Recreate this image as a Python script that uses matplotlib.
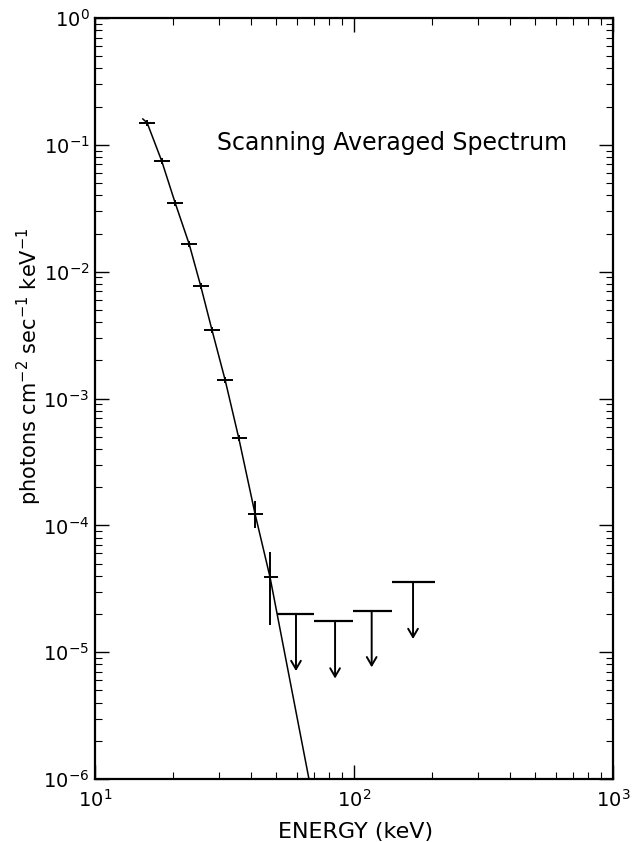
import numpy as np
import matplotlib.pyplot as plt

# measured points (keV, photons cm-2 s-1 keV-1)
energy = [15.9, 18.1, 20.4, 23.1, 25.6, 28.3, 31.8, 35.9, 41.5, 47.4]
e_lo = [14.8, 16.9, 19.0, 21.5, 23.9, 26.3, 29.6, 33.8, 38.9, 44.8]
e_hi = [17.05, 19.5, 21.9, 24.8, 27.5, 30.4, 34.1, 38.6, 44.5, 50.9]
flux = [0.149, 0.0745, 0.0348, 0.0165, 0.0077, 0.00346, 0.0014, 4.87e-4, 1.23e-4, 3.9e-5]
f_lo = [0.141, 0.0705, 0.0330, 0.0156, 0.0073, 0.00328, 0.00133, 4.61e-4, 0.95e-4, 1.63e-5]
f_hi = [0.157, 0.0787, 0.0367, 0.0174, 0.0081, 0.00365, 0.00148, 5.14e-4, 1.55e-4, 6.15e-5]

# upper limits
ul_lo = [50.5, 70.1, 99.1, 140]
ul_hi = [70.1, 99.1, 140, 205]
ul_c = [59.7, 84.5, 117, 169]
ul_f = [2.0e-5, 1.76e-5, 2.11e-5, 3.56e-5]
ul_tip = [7.1e-6, 6.2e-6, 7.6e-6, 1.27e-5]

# fitted curve
curve_e = [15.3] + energy + [67.0]
curve_f = [0.16] + flux + [1e-6]

fig = plt.figure(figsize=(6.35, 8.42), dpi=100)
ax = fig.add_axes([0.1496, 0.0748, 0.8158, 0.9038])

ax.plot(curve_e, curve_f, color='k', lw=1.1)

x = np.array(energy)
y = np.array(flux)
xerr = [x - np.array(e_lo), np.array(e_hi) - x]
yerr = [y - np.array(f_lo), np.array(f_hi) - y]
ax.errorbar(x, y, xerr=xerr, yerr=yerr, fmt='none', ecolor='k', elinewidth=1.4, capsize=0)

ax.hlines(ul_f, ul_lo, ul_hi, color='k', lw=1.6)
for c, f, t in zip(ul_c, ul_f, ul_tip):
    ax.annotate('', xy=(c, t), xytext=(c, f),
                arrowprops=dict(arrowstyle='->,head_length=0.6,head_width=0.35',
                                color='k', lw=1.4, shrinkA=0, shrinkB=0))

ax.set_xscale('log')
ax.set_yscale('log')
ax.set_xlim(10, 1000)
ax.set_ylim(1e-6, 1)

ax.tick_params(which='both', direction='in', top=True, right=True, labelsize=14)
ax.tick_params(which='major', length=10, width=1.0)
ax.tick_params(which='minor', length=5, width=0.8, labelbottom=False, labelleft=False)
ax.tick_params(axis='x', which='major', pad=7)
ax.tick_params(axis='y', which='major', pad=4)
for s in ax.spines.values():
    s.set_linewidth(1.6)

ax.set_xlabel('ENERGY (keV)', fontsize=16)
ax.xaxis.set_label_coords(0.503, -0.056)
ax.set_ylabel('photons cm$^{-2}$ sec$^{-1}$ keV$^{-1}$', fontsize=15)
ax.yaxis.set_label_coords(-0.098, 0.543)
ax.text(0.573, 0.836, 'Scanning Averaged Spectrum', transform=ax.transAxes,
        ha='center', va='center', fontsize=17)

plt.savefig('out.png', dpi=100)
